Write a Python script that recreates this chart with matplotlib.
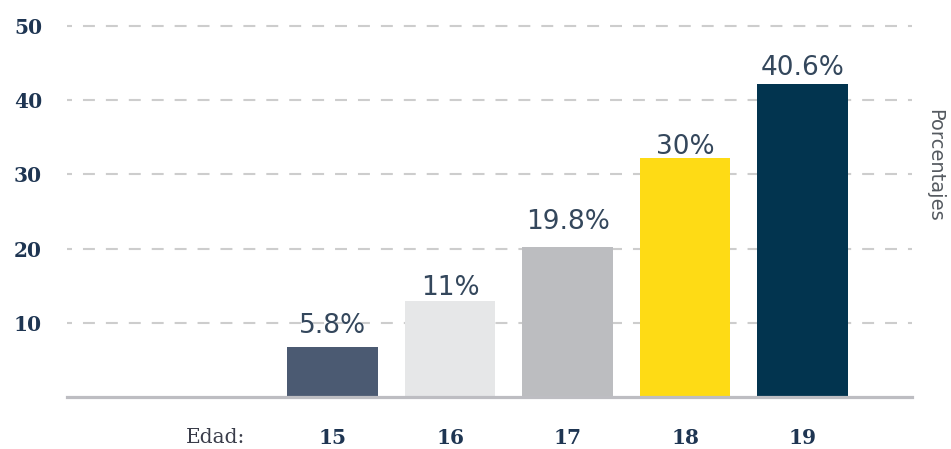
import matplotlib
matplotlib.use("Agg")
import matplotlib.pyplot as plt

# Data
ages = ["15", "16", "17", "18", "19"]
percent = [5.8, 11, 19.8, 30, 40.6]           # printed values
bar_heights = [6.8, 13.0, 20.25, 32.25, 42.2]  # bar heights as drawn in the picture
y_ticks = [10, 20, 30, 40, 50]
colors = ["#4b5a72", "#e6e7e8", "#bcbdc0", "#fedb15", "#02344f"]

plt.rcParams["lines.scale_dashes"] = False

fig = plt.figure(figsize=(9.51, 4.49), dpi=100)
ax = fig.add_axes([67 / 951, (449 - 397) / 449, 845 / 951, 371 / 449])

pos = list(range(1, len(ages) + 1))
ax.bar(pos, bar_heights, width=0.77, color=colors, zorder=3, linewidth=0)

for p, h, v in zip(pos, bar_heights, percent):
    ax.annotate(f"{v:g}%", xy=(p, v), xytext=(0, 15), textcoords="offset points",
                ha="center", va="baseline", fontsize=19, color="#34475c",
                family="DejaVu Sans", zorder=4)

ax.set_xlim(-1.26, 5.93)
ax.set_ylim(0, 50)

# gridlines
for t in y_ticks:
    ax.axhline(t, color="#cdcdcd", lw=1.5, linestyle=(5, (8.6, 7.9)), zorder=1, clip_on=False)
ax.axhline(0, color="#bdbdc2", lw=2.3, zorder=4, clip_on=False)

for s in ax.spines.values():
    s.set_visible(False)

ax.set_yticks(y_ticks)
ax.set_yticklabels([str(t) for t in y_ticks], fontsize=14.5, fontweight="bold",
                   family="DejaVu Serif", color="#1e3552")
ax.tick_params(axis="y", length=0, pad=18)

ax.set_xticks([0] + pos)
ax.set_xticklabels(["Edad:"] + ages, fontsize=14.5, fontweight="bold",
                   family="DejaVu Serif", color="#1e3552")
ax.tick_params(axis="x", length=0, pad=22)
lab0 = ax.get_xticklabels()[0]
lab0.set_fontweight("normal")
lab0.set_color("#3a3d4a")

fig.text(935 / 951, (449 - 165) / 449, "Porcentajes", rotation=-90, fontsize=14,
         color="#555a60", family="DejaVu Sans", ha="center", va="center")

fig.savefig("out.png", dpi=100)
